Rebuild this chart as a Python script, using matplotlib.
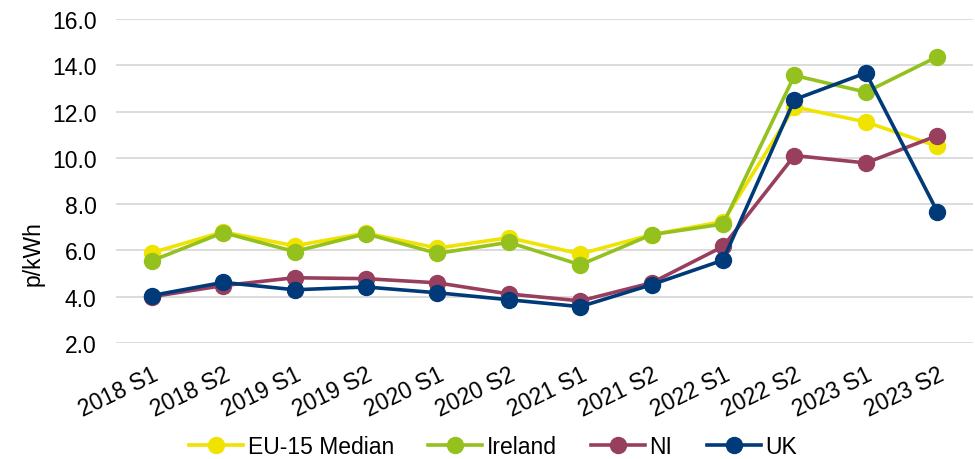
import matplotlib
matplotlib.use("Agg")
import matplotlib.pyplot as plt

plt.rcParams['font.family'] = ['Liberation Sans', 'DejaVu Sans']

periods = ["2018 S1", "2018 S2", "2019 S1", "2019 S2", "2020 S1", "2020 S2",
           "2021 S1", "2021 S2", "2022 S1", "2022 S2", "2023 S1", "2023 S2"]

eu15_median = [5.9, 6.8, 6.2, 6.75, 6.1, 6.55, 5.85, 6.68, 7.25, 12.2, 11.55, 10.5]
ireland = [5.55, 6.77, 5.95, 6.72, 5.87, 6.35, 5.38, 6.68, 7.14, 13.56, 12.84, 14.37]
ni = [4.0, 4.48, 4.82, 4.78, 4.6, 4.12, 3.82, 4.6, 6.17, 10.1, 9.78, 10.96]
uk = [4.05, 4.62, 4.3, 4.42, 4.17, 3.87, 3.57, 4.52, 5.58, 12.52, 13.67, 7.68]

series = [
    ("EU-15 Median", eu15_median, "#F0E300"),
    ("Ireland", ireland, "#95C11F"),
    ("NI", ni, "#983F5E"),
    ("UK", uk, "#003A78"),
]

FS = 16.5

fig = plt.figure(figsize=(9.75, 4.6), dpi=100)
ax = fig.add_axes([116 / 975, 1 - 344 / 460, 857 / 975, 324 / 460])

x = range(len(periods))
for name, vals, col in series:
    ax.plot(x, vals, color=col, lw=2.6, marker="o", markersize=11.5,
            label=name, clip_on=False)

ax.set_xlim(-0.5, len(periods) - 0.5)
ax.set_ylim(2, 16)
ax.set_yticks(range(2, 17, 2))
ax.set_yticklabels([f"{v:.1f}" for v in range(2, 17, 2)])
ax.set_xticks(list(x))
ax.set_xticklabels(periods, rotation=26, ha="right", va="top",
                   rotation_mode="anchor")

ax.grid(axis="y", color="#D9D9D9", lw=1.3)
ax.set_axisbelow(True)
for s in ax.spines.values():
    s.set_visible(False)
ax.tick_params(axis="both", length=0, labelsize=FS, colors="black")
ax.tick_params(axis="y", pad=14)
ax.tick_params(axis="x", pad=14)

ax.set_ylabel("p/kWh", fontsize=FS)
ax.yaxis.set_label_coords(-0.083, 0.28)

ax.legend(loc="center", bbox_to_anchor=(0.44, -0.318), ncol=4, frameon=False,
          fontsize=FS, handlelength=2.35, columnspacing=1.5, handletextpad=0.2,
          markerscale=1.0)

fig.savefig("out.png", dpi=100)
